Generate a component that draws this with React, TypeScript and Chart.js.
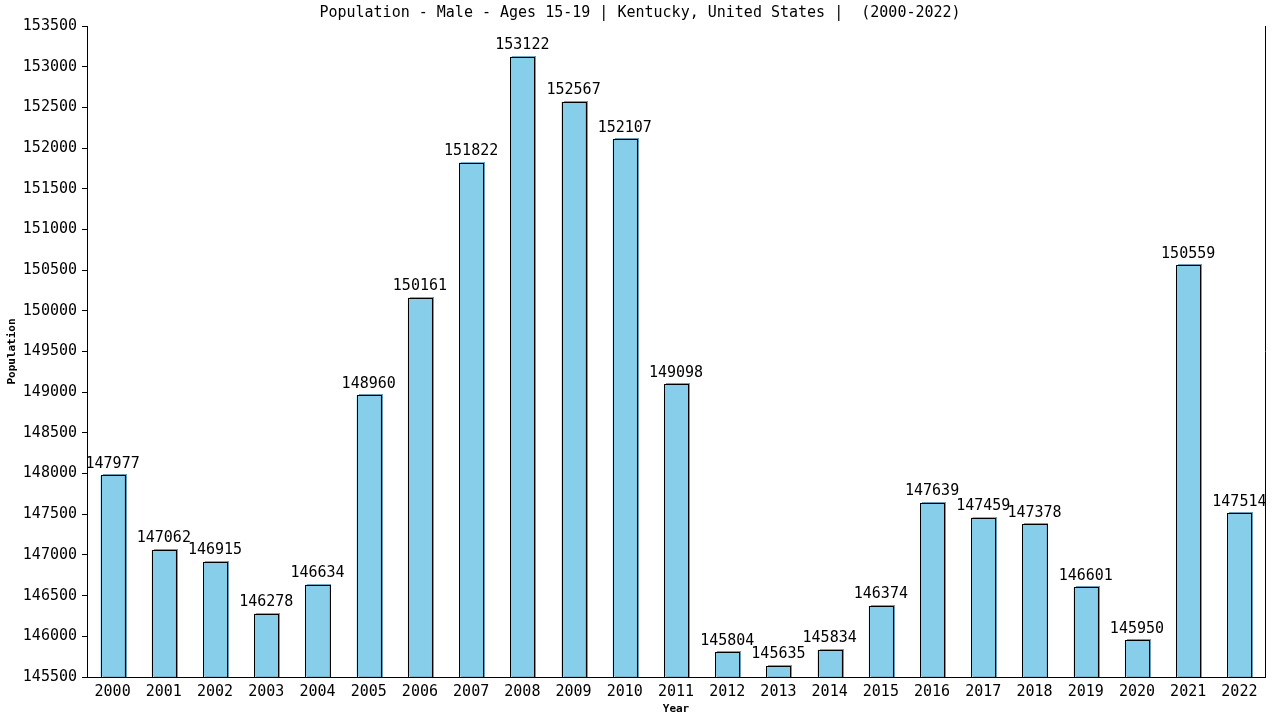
import { useEffect, useRef } from "react"
import { Chart, registerables } from "chart.js"

Chart.register(...registerables)

const years = [
  "2000", "2001", "2002", "2003", "2004", "2005", "2006", "2007", "2008", "2009", "2010", "2011",
  "2012", "2013", "2014", "2015", "2016", "2017", "2018", "2019", "2020", "2021", "2022",
]
const population = [
  147977, 147062, 146915, 146278, 146634, 148960, 150161, 151822, 153122, 152567, 152107, 149098,
  145804, 145635, 145834, 146374, 147639, 147459, 147378, 146601, 145950, 150559, 147514,
]
const yMin = 145500
const yMax = 153500
const yStep = 500

const titleText = "Population - Male - Ages 15-19 | Kentucky, United States |  (2000-2022)"
const mono = "'DejaVu Sans Mono', monospace"

export default function App() {
  const chartRef = useRef<HTMLCanvasElement>(null)
  const chartInstance = useRef<Chart | null>(null)

  useEffect(() => {
    document.body.style.margin = "0"
    if (!chartRef.current) return
    if (chartInstance.current) chartInstance.current.destroy()

    // titre, bord droit, ombres, contours et valeurs au-dessus des barres
    const decorations = {
      id: "decorations",
      beforeDatasetsDraw(chart: Chart) {
        const ctx = chart.ctx
        const area = chart.chartArea
        const meta = chart.getDatasetMeta(0)
        ctx.save()
        ctx.fillStyle = "#6c9db4"
        meta.data.forEach((bar: any) => {
          const { x, y, width } = bar.getProps(["x", "y", "width"], true)
          const left = Math.round(x - width / 2)
          const top = Math.round(y)
          ctx.fillRect(left + 2, top - 1, Math.round(width), Math.round(area.bottom) - top + 1)
        })
        ctx.restore()
      },
      afterDatasetsDraw(chart: Chart) {
        const ctx = chart.ctx
        const area = chart.chartArea
        const meta = chart.getDatasetMeta(0)
        ctx.save()
        ctx.strokeStyle = "#000"
        ctx.lineWidth = 1
        meta.data.forEach((bar: any) => {
          const { x, y, width } = bar.getProps(["x", "y", "width"], true)
          const left = Math.round(x - width / 2)
          const right = Math.round(x + width / 2)
          const top = Math.round(y)
          ctx.strokeRect(left + 0.5, top + 0.5, right - left, Math.round(area.bottom) - top)
        })
        ctx.restore()
      },
      afterDraw(chart: Chart) {
        const ctx = chart.ctx
        const area = chart.chartArea
        ctx.save()
        ctx.strokeStyle = "#000"
        ctx.lineWidth = 1
        ctx.beginPath()
        ctx.moveTo(Math.round(area.right) + 0.5, area.top)
        ctx.lineTo(Math.round(area.right) + 0.5, area.bottom)
        ctx.stroke()

        ctx.fillStyle = "#000"
        ctx.font = `15px ${mono}`
        ctx.textAlign = "center"
        ctx.textBaseline = "middle"
        ctx.fillText(titleText, 640, 13)

        ctx.textBaseline = "bottom"
        const meta = chart.getDatasetMeta(0)
        meta.data.forEach((bar: any, i: number) => {
          ctx.fillText(String(population[i]), bar.x, bar.y - 4)
        })
        ctx.restore()
      },
    }

    const ctx = chartRef.current.getContext("2d")
    if (!ctx) return
    chartInstance.current = new Chart(ctx, {
      type: "bar",
      data: {
        labels: years,
        datasets: [
          {
            data: population,
            base: yMin,
            backgroundColor: "#87ceeb",
            borderWidth: 0,
            barPercentage: 0.47,
            categoryPercentage: 1,
          },
        ],
      },
      options: {
        responsive: false,
        animation: false,
        layout: { padding: { left: 0, right: 15, top: 26, bottom: 0 } },
        plugins: {
          legend: { display: false },
          tooltip: { enabled: false },
          title: { display: false },
        },
        scales: {
          x: {
            grid: { display: false },
            border: { display: true, color: "#000", width: 1 },
            ticks: { color: "#000", font: { family: mono, size: 15 }, padding: -2, maxRotation: 0 },
            title: {
              display: true,
              text: "Year",
              color: "#000",
              font: { family: mono, size: 11, weight: "bold" },
              padding: { top: 0, bottom: 4 },
            },
            afterFit(scale: any) {
              scale.height = 43
            },
          },
          y: {
            min: yMin,
            max: yMax,
            grid: { drawOnChartArea: false, drawTicks: true, tickLength: 5, color: "#000" },
            border: { display: true, color: "#000", width: 1 },
            ticks: {
              stepSize: yStep,
              color: "#000",
              padding: 5,
              font: { family: mono, size: 15 },
              callback: (v: any) => String(v),
            },
            title: {
              display: true,
              text: "Population",
              color: "#000",
              font: { family: mono, size: 11, weight: "bold" },
              padding: { top: 6, bottom: 0 },
            },
            afterFit(scale: any) {
              scale.width = 87
            },
          },
        },
      },
      plugins: [decorations],
    })

    return () => {
      if (chartInstance.current) {
        chartInstance.current.destroy()
        chartInstance.current = null
      }
    }
  }, [])

  return (
    <div style={{ width: 1280, height: 720 }}>
      <canvas ref={chartRef} width={1280} height={720} style={{ width: 1280, height: 720 }} />
    </div>
  )
}
